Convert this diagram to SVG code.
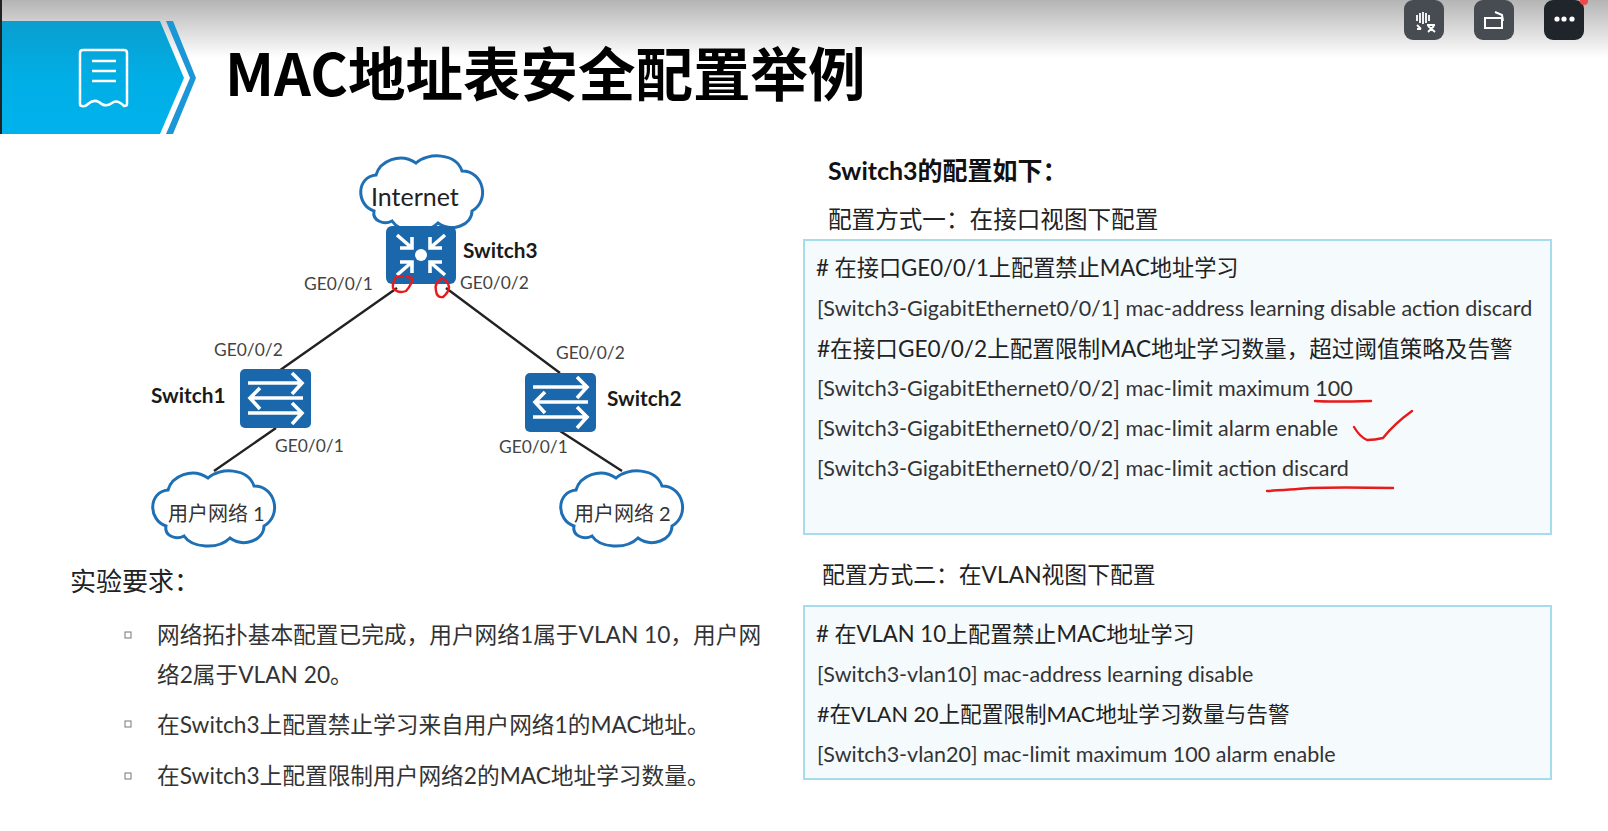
<svg xmlns="http://www.w3.org/2000/svg" width="1608" height="831" viewBox="0 0 1608 831">
<style>
text{font-family:"Lato","Noto Sans CJK SC",sans-serif;fill:#3a3a3a}
.cfg{font-size:21.5px;fill:#333}
.cm{font-size:22.6px;fill:#222}
.hd{font-size:23.6px;fill:#222}
.port{font-size:17.4px;fill:#444}
.sw{font-size:20.8px;font-weight:700;fill:#1a1a1a}
.req{font-size:22.7px;fill:#333}
.box{fill:#f5fafd;stroke:#a6dcee;stroke-width:2}
.dev{fill:#1b67ac}
.ic{fill:none;stroke:#fff;stroke-width:3.6}
.cloud{fill:#fff;stroke:#1f6fb5;stroke-width:3}
.link{stroke:#222;stroke-width:2.4;fill:none}
.ink{stroke:#e81a1a;stroke-width:2.4;fill:none;stroke-linecap:round;stroke-linejoin:round}
.btn{fill:#474c52}
</style>
<defs>
<linearGradient id="top" x1="0" y1="0" x2="0" y2="1"><stop offset="0" stop-color="#b4b4b4"/><stop offset="1" stop-color="#ffffff"/></linearGradient>
<linearGradient id="band" x1="0" y1="0" x2="0" y2="1"><stop offset="0" stop-color="#0a9ecf"/><stop offset="0.5" stop-color="#00aee6"/><stop offset="1" stop-color="#00b2ec"/></linearGradient>
<g id="swicon">
<rect class="dev" width="71" height="59" rx="5"/>
<path class="ic" d="M8 14H61M52 4L62 14L52 25M63 29H11M20 19L10 29L20 40M8 44H61M52 34L62 44L52 55"/>
</g>
<path id="cl" d="M14 56C-4 50-4 22 16 20C20 6 40-3 56 8C68-3 96-2 102 16C124 16 130 46 112 56C112 70 92 78 78 68C66 80 40 78 32 66C24 70 12 66 14 56Z"/>
</defs>
<rect width="1608" height="831" fill="#fff"/>
<rect width="1608" height="58" fill="url(#top)"/>
<g id="banner">
<path d="M2 21H160L184 78L160 134H2Z" fill="url(#band)"/>
<path d="M166 21H173L196 78L173 134H166L190 78Z" fill="#1b96d6"/>
<rect x="0" width="2" height="134" fill="#222"/>
<path d="M80 53Q80 50 83 50H124Q127 50 127 53V104Q127 106 124 106Q117 99 112 103Q105 108 99 102Q93 99 88 104Q85 107 82 106Q80 106 80 104Z" fill="none" stroke="#fff" stroke-width="2.5"/>
<path d="M92 61H116M92 71H116M92 81H116" stroke="#fff" stroke-width="2.5"/>
</g>
<text x="225" y="96" style="font-family:'Noto Sans CJK SC','Noto Sans',sans-serif;font-size:57.5px;font-weight:700;fill:#000">MAC地址表安全配置举例</text>
<g id="toolbar">
<rect class="btn" x="1404" y="0" width="40" height="40" rx="9"/>
<rect class="btn" x="1474" y="0" width="40" height="40" rx="9"/>
<rect x="1544" y="0" width="40" height="40" rx="9" fill="#1f252b"/>
<circle cx="1584" cy="1" r="4" fill="#f04848"/>
<path d="M1417 15V21M1420 13V23M1423 12V24M1426 13V23M1429 15V21M1417 25L1421 29M1417 29H1421M1427 25H1435M1431 24V26M1428 32L1434 26M1428 26L1435 32" stroke="#fff" stroke-width="1.8" fill="none"/>
<path d="M1485 18H1502V28H1485Z M1495 12L1502 15L1503 21" stroke="#fff" stroke-width="2" fill="none"/>
<circle cx="1557" cy="19" r="2.6" fill="#fff"/><circle cx="1564" cy="19" r="2.6" fill="#fff"/><circle cx="1572" cy="19" r="2.6" fill="#fff"/>
</g>
<g id="connectors">
<path class="link" d="M397 288L276 373M446 288L560 373M276 428L214 471M560 431L622 471"/>
</g>
<g id="internet"><use href="#cl" class="cloud" transform="translate(360 155)"/><text x="371" y="206" style="font-size:25px;fill:#222">Internet</text></g>
<g id="switch3">
<rect class="dev" x="386" y="226" width="70" height="58" rx="6"/>
<circle cx="421" cy="255" r="6" fill="#fff"/>
<path class="ic" d="M397 235L412 248M412 237V248H400M445 235L430 248M430 237V248H442M397 275L412 262M412 273V262H400M445 275L430 262M430 273V262H442"/>
<text class="sw" x="463" y="258">Switch3</text>
</g>
<g id="switch1"><use href="#swicon" x="240" y="369"/><text class="sw" x="151" y="403">Switch1</text></g>
<g id="switch2"><use href="#swicon" x="525" y="373"/><text class="sw" x="607" y="406">Switch2</text></g>
<g id="net1"><use href="#cl" class="cloud" transform="translate(152 470)"/><text x="168" y="521" style="font-size:20px;fill:#333">用户网络 1</text></g>
<g id="net2"><use href="#cl" class="cloud" transform="translate(560 470)"/><text x="574" y="521" style="font-size:20px;fill:#333">用户网络 2</text></g>
<g id="ports">
<text class="port" x="304" y="290">GE0/0/1</text>
<text class="port" x="460" y="289">GE0/0/2</text>
<text class="port" x="214" y="356">GE0/0/2</text>
<text class="port" x="556" y="359">GE0/0/2</text>
<text class="port" x="275" y="452">GE0/0/1</text>
<text class="port" x="499" y="453">GE0/0/1</text>
</g>
<g id="requirements">
<text x="70" y="591" style="font-size:26px;fill:#222">实验要求：</text>
<rect x="125" y="632" width="6" height="6" fill="none" stroke="#777"/>
<text class="req" x="157" y="643">网络拓扑基本配置已完成，用户网络1属于VLAN 10，用户网</text>
<text class="req" x="157" y="683">络2属于VLAN 20。</text>
<rect x="125" y="721" width="6" height="6" fill="none" stroke="#777"/>
<text class="req" x="157" y="733">在Switch3上配置禁止学习来自用户网络1的MAC地址。</text>
<rect x="125" y="773" width="6" height="6" fill="none" stroke="#777"/>
<text class="req" x="157" y="784">在Switch3上配置限制用户网络2的MAC地址学习数量。</text>
</g>
<text x="828" y="180" style="font-size:25px;font-weight:700;fill:#111">Switch3的配置如下：</text>
<text x="828" y="228" class="hd">配置方式一：在接口视图下配置</text>
<text x="822" y="583" class="hd" style="font-size:22.8px">配置方式二：在VLAN视图下配置</text>
<g id="config1">
<rect class="box" x="804" y="240" width="747" height="294"/>
<text class="cm" x="816" y="276" style="font-size:22.2px">#  在接口GE0/0/1上配置禁止MAC地址学习</text>
<text class="cfg" x="817" y="316">[Switch3-GigabitEthernet0/0/1] mac-address learning disable action discard</text>
<text class="cm" x="817" y="357">#在接口GE0/0/2上配置限制MAC地址学习数量，超过阈值策略及告警</text>
<text class="cfg" x="817" y="396">[Switch3-GigabitEthernet0/0/2] mac-limit maximum 100</text>
<text class="cfg" x="817" y="436">[Switch3-GigabitEthernet0/0/2] mac-limit alarm enable</text>
<text class="cfg" x="817" y="476">[Switch3-GigabitEthernet0/0/2] mac-limit action discard</text>
</g>
<g id="config2">
<rect class="box" x="804" y="606" width="747" height="173"/>
<text class="cm" x="816" y="642" style="font-size:22.1px">#  在VLAN 10上配置禁止MAC地址学习</text>
<text class="cfg" x="817" y="682">[Switch3-vlan10] mac-address learning disable</text>
<text class="cm" x="817" y="722" style="font-size:21.6px">#在VLAN 20上配置限制MAC地址学习数量与告警</text>
<text class="cfg" x="817" y="762">[Switch3-vlan20] mac-limit maximum 100 alarm enable</text>
</g>
<g id="ink">
<path class="ink" d="M396 277Q392 283 393 288Q398 294 406 291Q413 283 412 278L407 277M396 277L403 276"/>
<path class="ink" d="M441 279Q434 283 436 291Q437 298 443 297Q449 292 449 287Q448 281 443 279"/>
<path class="ink" d="M1315 401Q1330 402 1371 401"/>
<path class="ink" d="M1354 427Q1360 437 1367 440Q1375 440 1383 438Q1394 424 1412 411"/>
<path class="ink" d="M1267 491Q1300 489 1310 488Q1340 487 1393 488"/>
</g>
</svg>
